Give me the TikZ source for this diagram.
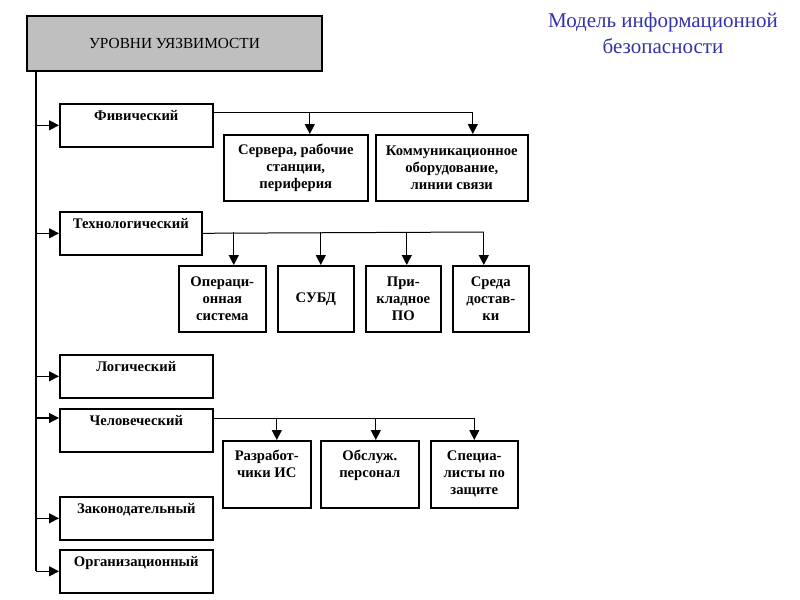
\documentclass[tikz,border=0pt]{standalone}
\usepackage{fontspec}
\setmainfont{Liberation Serif}
\usetikzlibrary{arrows.meta}
\definecolor{titleblue}{RGB}{51,51,170}

\begin{document}
\begin{tikzpicture}[x=0.75pt,y=-0.75pt,
    every node/.style={font=\bfseries\fontsize{11}{12.75}\selectfont},
    head/.style={draw,line width=1.5pt,fill=black!25,anchor=north west,
      font=\fontsize{11.5}{13}\selectfont,
      minimum width=221.25pt,minimum height=41.25pt},
    level/.style={draw,line width=1.2pt,anchor=north west,inner ysep=0pt,
      text height=12.75pt,text depth=19.5pt,minimum width=114.75pt},
    item/.style={draw,line width=1.2pt,anchor=north west,align=center,
      inner sep=1pt,minimum height=49.5pt},
    title/.style={font=\fontsize{15.75}{19.5}\selectfont,align=center,
      text=titleblue},
    trunk/.style={line width=1.5pt},
    bar/.style={line width=0.75pt},
    arr/.style={line width=0.9pt,-{Triangle[length=7.5pt,width=7.5pt]}}]
  \useasboundingbox (0,0) rectangle (800,600);

  \node[title] (title) at (663,33) {Модель информационной\\безопасности};

  \node[head] (levels) at (26,15) {УРОВНИ УЯЗВИМОСТИ};

  % levels
  \node[level] (phys) at (59,103) {Фивический};
  \node[level,minimum width=106.5pt] (tech) at (59,211) {Технологический};
  \node[level] (logic) at (59,354) {Логический};
  \node[level] (human) at (59,408) {Человеческий};
  \node[level] (law) at (59,496) {Законодательный};
  \node[level] (org) at (59,549) {Организационный};

  % physical
  \node[item,minimum width=108pt] (server) at (223,134) {Сервера, рабочие\\станции,\\периферия};
  \node[item,minimum width=114pt] (comm) at (375,134) {Коммуникационное\\оборудование,\\линии связи};

  % technological
  \node[item,minimum width=65.25pt] (os) at (178,265) {Операци-\\онная\\система};
  \node[item,minimum width=57pt] (dbms) at (277,265) {СУБД};
  \node[item,minimum width=56.25pt] (apps) at (365,265) {При-\\кладное\\ПО};
  \node[item,minimum width=57pt] (env) at (452,265) {Среда\\достав-\\ки};

  % human
  \node[item,minimum width=66pt,minimum height=50.25pt] (dev) at (222,440) {Разработ-\\чики ИС\\\strut};
  \node[item,minimum width=73.5pt,minimum height=50.25pt] (staff) at (320,440) {Обслуж.\\персонал\\\strut};
  \node[item,minimum width=65.25pt,minimum height=50.25pt] (sec) at (430,440) {Специа-\\листы по\\защите};

  % trunk
  \draw[trunk] ([xshift=7.5pt]levels.south west) -- ([xshift=-17.25pt]org.west);
  \foreach \n in {phys,tech,logic,law,org}
    \draw[arr] ([xshift=-17.25pt]\n.west) -- (\n.west);
  \draw[arr] ([xshift=-17.25pt,yshift=-7.5pt]human.north west) -- ([yshift=-7.5pt]human.north west);

  % physical branch
  \draw[bar] ([yshift=-6.75pt]phys.north east) -- ([xshift=15.75pt,yshift=16.5pt]comm.north);
  \draw[arr] ([xshift=10.5pt,yshift=16.5pt]server.north) -- ([xshift=10.5pt]server.north);
  \draw[arr] ([xshift=15.75pt,yshift=16.5pt]comm.north) -- ([xshift=15.75pt]comm.north);

  % technological branch
  \draw[bar] (tech.east) -- ([xshift=-5.25pt,yshift=24.75pt]env.north);
  \foreach \n/\dx in {os/8.6pt,dbms/3.75pt,apps/2.6pt,env/-5.25pt}
    \draw[arr] ([xshift=\dx,yshift=24.75pt]\n.north) -- ([xshift=\dx]\n.north);

  % human branch
  \draw[bar] ([yshift=-7.5pt]human.north east) -- ([yshift=16.5pt]sec.north);
  \foreach \n/\dx in {dev/7.5pt,staff/4.5pt,sec/0pt}
    \draw[arr] ([xshift=\dx,yshift=16.5pt]\n.north) -- ([xshift=\dx]\n.north);
\end{tikzpicture}
\end{document}
